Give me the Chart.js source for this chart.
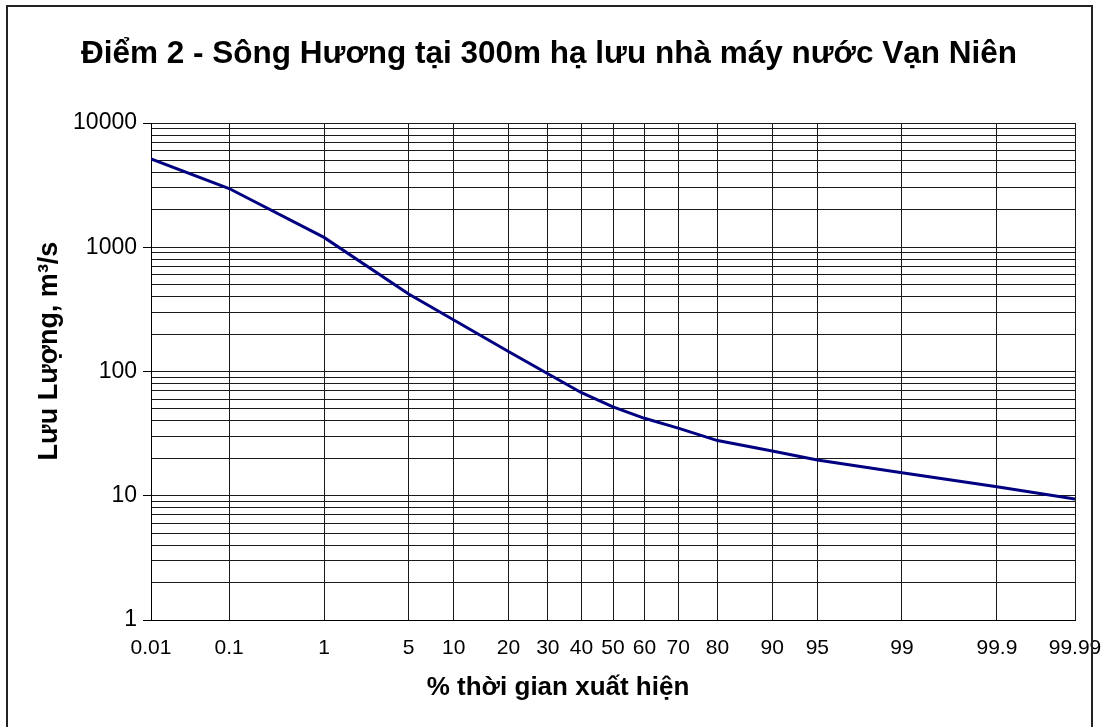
<!DOCTYPE html>
<html lang="vi">
<head>
<meta charset="utf-8">
<title>Điểm 2 - Sông Hương tại 300m hạ lưu nhà máy nước Vạn Niên</title>
<script src="https://cdn.jsdelivr.net/npm/chart.js@4.4.1/dist/chart.umd.min.js"></script>
<style>
  html, body { margin: 0; padding: 0; background: #fff; }
  #wrap { position: relative; width: 1102px; height: 727px; }
</style>
</head>
<body>
<div id="wrap"><canvas id="chart"></canvas></div>
<script>
// Flow duration curve: discharge exceeded for a given % of time
const chartTitle = 'Điểm 2 - Sông Hương tại 300m hạ lưu nhà máy nước Vạn Niên';
const xTitle = '% thời gian xuất hiện';
const yTitle = 'Lưu Lượng, m³/s';

const exceedancePct = [0.01, 0.1, 1, 5, 10, 20, 30, 40, 50, 60, 70, 80, 90, 95, 99, 99.9, 99.99];
const discharge = [5150, 2970, 1200, 420, 260, 145, 96, 67.5, 52, 42, 35, 27.8, 22.9, 19.4, 15.3, 11.8, 9.4];

const xTickValues = [0.01, 0.1, 1, 5, 10, 20, 30, 40, 50, 60, 70, 80, 90, 95, 99, 99.9, 99.99];
const yTickValues = [
  1, 2, 3, 4, 5, 6, 7, 8, 9,
  10, 20, 30, 40, 50, 60, 70, 80, 90,
  100, 200, 300, 400, 500, 600, 700, 800, 900,
  1000, 2000, 3000, 4000, 5000, 6000, 7000, 8000, 9000,
  10000
];
const yLabelledTicks = [1, 10, 100, 1000, 10000];

const FONT = '"Liberation Sans", Arial, Helvetica, sans-serif';

// Inverse of the standard normal CDF (Acklam's rational approximation)
function probit(p) {
  const a = [-3.969683028665376e+01, 2.209460984245205e+02, -2.759285104469687e+02,
             1.383577518672690e+02, -3.066479806614716e+01, 2.506628277459239e+00];
  const b = [-5.447609879822406e+01, 1.615858368580409e+02, -1.556989798598866e+02,
             6.680131188771972e+01, -1.328068155288572e+01];
  const c = [-7.784894002430293e-03, -3.223964580411365e-01, -2.400758277161838e+00,
             -2.549732539343734e+00, 4.374664141464968e+00, 2.938163982698783e+00];
  const d = [7.784695709041462e-03, 3.224671290700398e-01, 2.445134137142996e+00,
             3.754408661907416e+00];
  const pLow = 0.02425, pHigh = 1 - pLow;
  let q, r;
  if (p < pLow) {
    q = Math.sqrt(-2 * Math.log(p));
    return (((((c[0]*q + c[1])*q + c[2])*q + c[3])*q + c[4])*q + c[5]) /
           ((((d[0]*q + d[1])*q + d[2])*q + d[3])*q + 1);
  }
  if (p > pHigh) {
    q = Math.sqrt(-2 * Math.log(1 - p));
    return -(((((c[0]*q + c[1])*q + c[2])*q + c[3])*q + c[4])*q + c[5]) /
            ((((d[0]*q + d[1])*q + d[2])*q + d[3])*q + 1);
  }
  q = p - 0.5; r = q * q;
  return (((((a[0]*r + a[1])*r + a[2])*r + a[3])*r + a[4])*r + a[5]) * q /
         (((((b[0]*r + b[1])*r + b[2])*r + b[3])*r + b[4])*r + 1);
}

// Normal-probability axis: values in percent, spaced by their normal quantile
class ProbabilityScale extends Chart.Scale {
  static id = 'probability';
  static defaults = {};

  parse(raw) { return Number(raw); }

  determineDataLimits() {
    const { min, max } = this.getUserBounds();
    this.min = min;
    this.max = max;
  }

  buildTicks() { return []; }

  configure() {
    super.configure();
    this._zStart = probit(this.min / 100);
    this._zEnd = probit(this.max / 100);
  }

  getLabelForValue(value) { return String(value); }

  getPixelForValue(value) {
    const z = probit(value / 100);
    return this.getPixelForDecimal((z - this._zStart) / (this._zEnd - this._zStart));
  }

  getPixelForTick(index) {
    const t = this.ticks[index];
    return t ? this.getPixelForValue(t.value) : NaN;
  }

  getValueForPixel(pixel) {
    const target = this._zStart + this.getDecimalForPixel(pixel) * (this._zEnd - this._zStart);
    let lo = this.min, hi = this.max;
    for (let i = 0; i < 60; i++) {
      const mid = (lo + hi) / 2;
      if (probit(mid / 100) < target) lo = mid; else hi = mid;
    }
    return (lo + hi) / 2;
  }
}
Chart.register(ProbabilityScale);

// Outer chart frame and the two axis captions
const frameAndAxisTitles = {
  id: 'frameAndAxisTitles',
  afterDraw(chart) {
    const ctx = chart.ctx;
    ctx.save();
    ctx.strokeStyle = '#222';
    ctx.lineWidth = 2;
    ctx.strokeRect(7, 6, 1085, 760);

    ctx.fillStyle = '#000';
    ctx.font = 'bold 26px ' + FONT;
    ctx.textAlign = 'center';
    ctx.textBaseline = 'alphabetic';
    ctx.fillText(xTitle, 558, 695);

    ctx.font = 'bold 27px ' + FONT;
    ctx.translate(57, 351);
    ctx.rotate(-Math.PI / 2);
    ctx.fillText(yTitle, 0, 0);
    ctx.restore();
  }
};

new Chart(document.getElementById('chart'), {
  type: 'line',
  data: {
    datasets: [{
      label: 'Lưu lượng',
      data: exceedancePct.map((p, i) => ({ x: p, y: discharge[i] })),
      borderColor: '#000080',
      borderWidth: 3,
      pointRadius: 0,
      tension: 0,
      fill: false
    }]
  },
  options: {
    responsive: true,
    maintainAspectRatio: false,
    animation: false,
    events: [],
    layout: { padding: { left: 23, right: 27, top: 0, bottom: 50 } },
    plugins: {
      legend: { display: false },
      tooltip: { enabled: false },
      title: {
        display: true,
        text: chartTitle,
        color: '#000',
        font: { family: FONT, size: 31.5, weight: 'bold', lineHeight: 1.2 },
        padding: { top: 35.6, bottom: 49.6 }
      }
    },
    scales: {
      x: {
        type: 'probability',
        position: 'bottom',
        min: 0.01,
        max: 99.99,
        afterBuildTicks: (scale) => { scale.ticks = xTickValues.map(v => ({ value: v })); },
        afterFit: (scale) => {
          scale.height = 57;
          // end labels may overhang the frame; keep the plot edges fixed
          scale.paddingLeft = 0;
          scale.paddingRight = 0;
        },
        ticks: {
          autoSkip: false,
          maxRotation: 0,
          minRotation: 0,
          padding: 16,
          color: '#000',
          font: { family: FONT, size: 21 },
          callback: (value) => String(value)
        },
        grid: { color: '#1a1a1a', lineWidth: 1, drawTicks: false },
        border: { color: '#000', width: 1 }
      },
      y: {
        type: 'logarithmic',
        position: 'left',
        min: 1,
        max: 10000,
        afterBuildTicks: (scale) => { scale.ticks = yTickValues.map(v => ({ value: v })); },
        afterFit: (scale) => { scale.width = 128; },
        ticks: {
          autoSkip: false,
          padding: 6,
          color: '#000',
          font: { family: FONT, size: 23 },
          callback: (value) => yLabelledTicks.includes(value) ? String(value) : ''
        },
        grid: {
          color: '#1a1a1a',
          lineWidth: 1,
          drawTicks: true,
          tickLength: 8,
          tickColor: (ctx) => (ctx.tick && yLabelledTicks.includes(ctx.tick.value)) ? '#000' : 'rgba(0,0,0,0)'
        },
        border: { color: '#000', width: 1 }
      }
    }
  },
  plugins: [frameAndAxisTitles]
});
</script>
</body>
</html>
